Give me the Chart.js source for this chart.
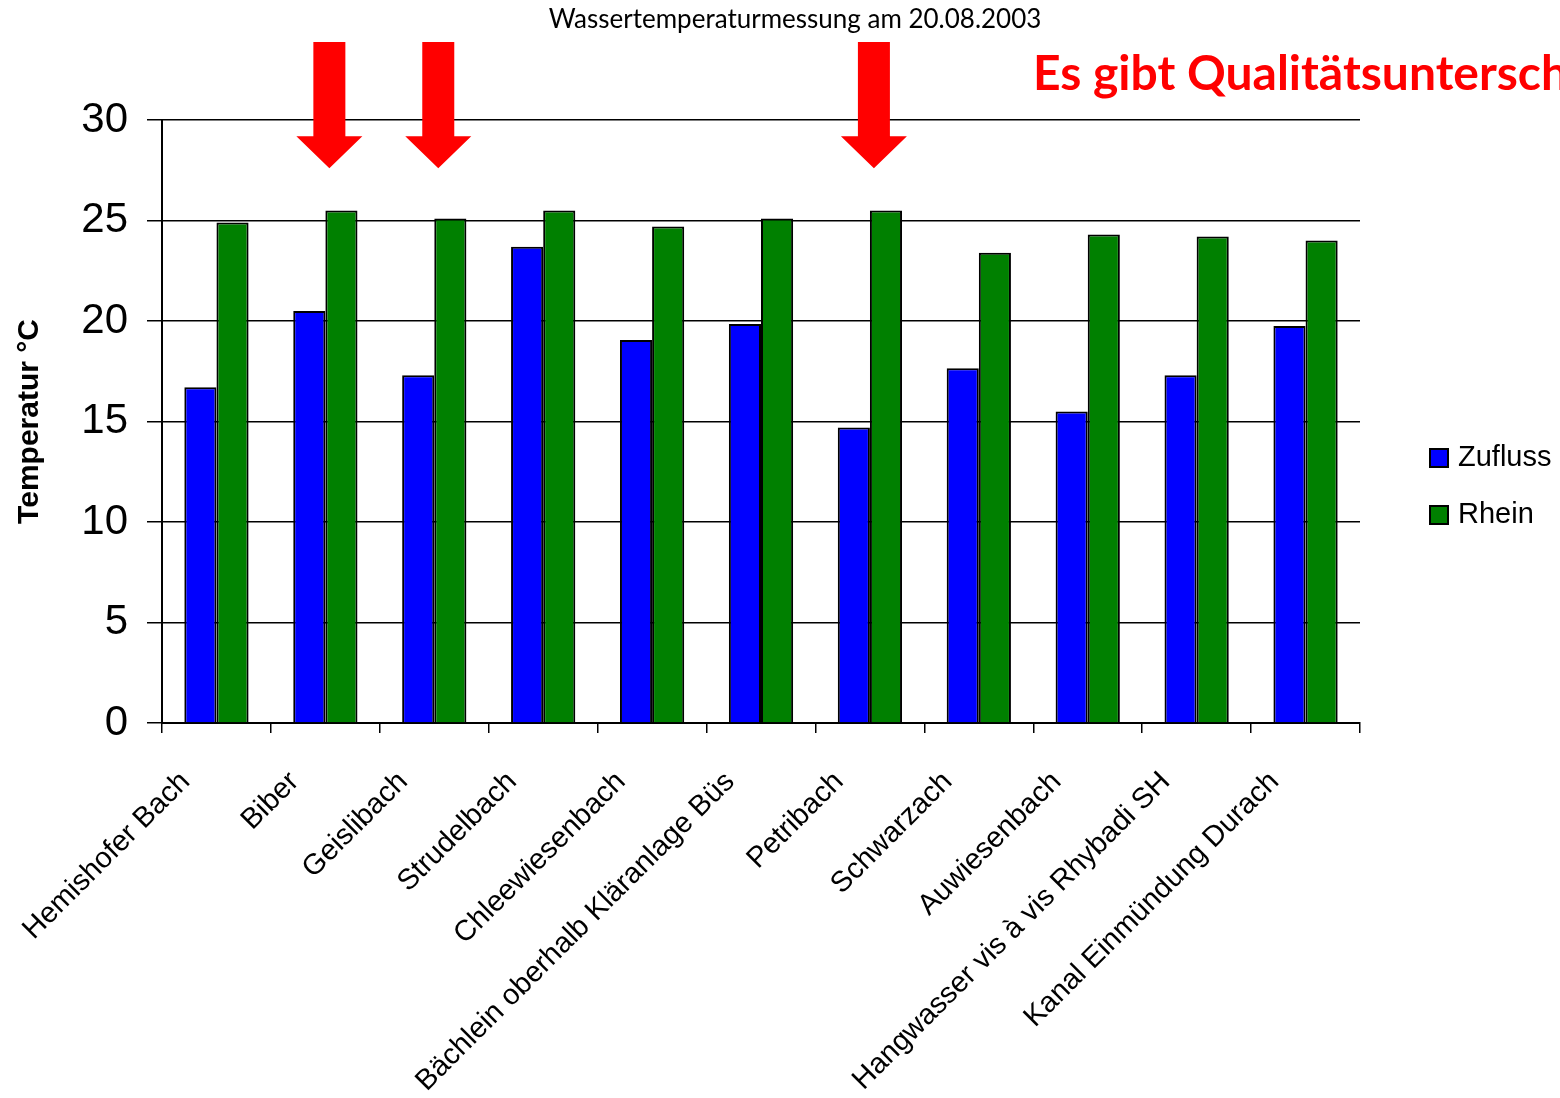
<!DOCTYPE html>
<html lang="de">
<head>
    <meta charset="UTF-8">
    <title>Wassertemperaturmessung am 20.08.2003</title>
    <script src="https://cdn.jsdelivr.net/npm/chart.js"></script>
    <style>
        html, body { margin: 0; padding: 0; background: #fff; }
        #wrap { width: 1560px; height: 1098px; }
    </style>
</head>
<body>
    <div id="wrap"><canvas id="tempChart" width="1560" height="1098"></canvas></div>

    <script>
        // Messstellen und Werte
        const categories = [
            'Hemishofer Bach', 'Biber', 'Geislibach', 'Strudelbach', 'Chleewiesenbach',
            'Bächlein oberhalb Kläranlage Büs', 'Petribach', 'Schwarzach', 'Auwiesenbach',
            'Hangwasser vis à vis Rhybadi SH', 'Kanal Einmündung Durach'
        ];
        const zufluss = [16.7, 20.5, 17.3, 23.7, 19.05, 19.85, 14.7, 17.65, 15.5, 17.3, 19.75];
        const rhein = [24.9, 25.5, 25.1, 25.5, 24.7, 25.1, 25.5, 23.4, 24.3, 24.2, 24.0];
        const seriesNames = ['Zufluss', 'Rhein'];
        const yTicks = [0, 5, 10, 15, 20, 25, 30];
        const arrowAt = ['Biber', 'Geislibach', 'Petribach'];
        const chartTitle = 'Wassertemperaturmessung am 20.08.2003';
        const note = 'Es gibt Qualitätsunterschiede';

        // Titel, Pfeile, Hinweis und Legende
        const extras = {
            id: 'extras',
            afterDraw(chart) {
                const c = chart.ctx;
                const a = chart.chartArea;
                const xs = chart.scales.x, ys = chart.scales.y;
                c.save();

                c.fillStyle = '#000';
                c.font = '26px Lato';
                c.textAlign = 'center';
                c.textBaseline = 'middle';
                c.fillText(chartTitle, 795, 20);

                c.fillStyle = '#ff0000';
                c.font = 'bold 48px Lato';
                c.textAlign = 'left';
                c.fillText(note, 1033, 75);

                // rote Pfeile (leicht zum Rhein-Balken versetzt)
                arrowAt.forEach(name => {
                    const x = xs.getPixelForValue(categories.indexOf(name)) + 4;
                    const tip = ys.getPixelForValue(27.6);
                    const top = a.top - 78;
                    const headTop = tip - 32;
                    c.beginPath();
                    c.moveTo(x - 16, top);
                    c.lineTo(x + 16, top);
                    c.lineTo(x + 16, headTop);
                    c.lineTo(x + 33, headTop);
                    c.lineTo(x, tip);
                    c.lineTo(x - 33, headTop);
                    c.lineTo(x - 16, headTop);
                    c.closePath();
                    c.fill();
                });

                // Legende
                c.font = '29px "Liberation Sans", Arial';
                c.textBaseline = 'middle';
                chart.data.datasets.forEach((ds, i) => {
                    const lx = a.right + 70;
                    const ly = a.top + 338 + i * 57;
                    c.fillStyle = ds.backgroundColor;
                    c.fillRect(lx, ly - 9, 18, 18);
                    c.strokeStyle = '#000';
                    c.lineWidth = 2;
                    c.strokeRect(lx, ly - 9, 18, 18);
                    c.fillStyle = '#000';
                    c.fillText(ds.label, lx + 28, ly);
                });
                c.restore();
            }
        };

        const ctx = document.getElementById('tempChart').getContext('2d');
        const tempChart = new Chart(ctx, {
            type: 'bar',
            data: {
                labels: categories,
                datasets: [
                    { label: seriesNames[0], data: zufluss, backgroundColor: '#0000ff', borderColor: '#000', borderWidth: 2 },
                    { label: seriesNames[1], data: rhein, backgroundColor: '#008000', borderColor: '#000', borderWidth: 2 }
                ]
            },
            options: {
                responsive: false,
                animation: false,
                layout: { padding: { top: 120, left: 10, right: 200, bottom: 0 } },
                datasets: { bar: { categoryPercentage: 0.59, barPercentage: 1 } },
                plugins: {
                    legend: { display: false },
                    title: { display: false },
                    tooltip: { enabled: false }
                },
                scales: {
                    x: {
                        grid: { drawOnChartArea: false, drawTicks: true, tickLength: 10, color: '#000', lineWidth: 1.5, offset: true },
                        border: { color: '#000', width: 2 },
                        ticks: {
                            color: '#000',
                            font: { family: '"Liberation Sans", Arial', size: 29 },
                            minRotation: 45, maxRotation: 45,
                            autoSkip: false,
                            labelOffset: -31,
                            padding: 32
                        },
                        afterFit: s => { s.height = 375; }
                    },
                    y: {
                        min: 0, max: 30,
                        afterBuildTicks: s => { s.ticks = yTicks.map(v => ({ value: v })); },
                        grid: { color: '#000', lineWidth: 1.5, tickLength: 15 },
                        border: { color: '#000', width: 2 },
                        ticks: {
                            color: '#000',
                            font: { family: '"Liberation Sans", Arial', size: 42 },
                            padding: 19
                        },
                        title: {
                            display: true,
                            text: 'Temperatur °C',
                            color: '#000',
                            font: { family: '"Liberation Sans", Arial', size: 30, weight: 'bold' },
                            padding: 2
                        },
                        afterFit: s => { s.width = 152; }
                    }
                }
            },
            plugins: [extras]
        });
    </script>
</body>
</html>
